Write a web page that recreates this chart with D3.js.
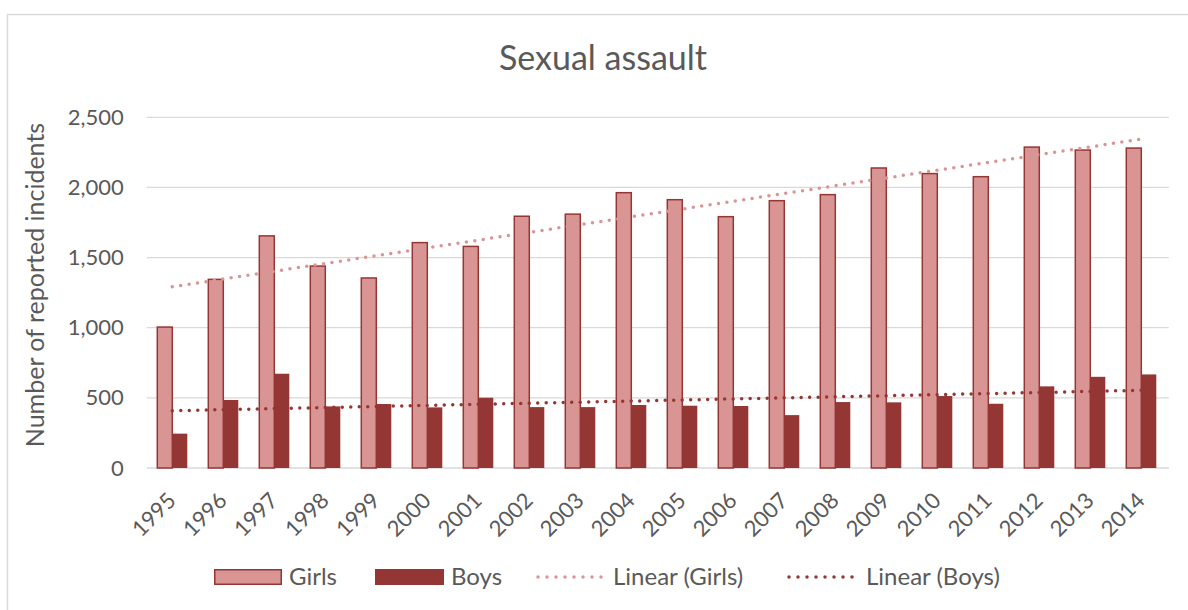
<!DOCTYPE html>
<html>
<head>
<meta charset="utf-8">
<script src="https://cdn.jsdelivr.net/npm/d3@7"></script>
<style>
  body { margin: 0; background: #fff; }
  text { font-family: Lato, "Open Sans", sans-serif; fill: #595959; }
</style>
</head>
<body>
<div id="chart"></div>
<script>
// data
var years = ["1995", "1996", "1997", "1998", "1999", "2000", "2001", "2002", "2003", "2004",
  "2005", "2006", "2007", "2008", "2009", "2010", "2011", "2012", "2013", "2014"];
var girls = [1010, 1350, 1660, 1445, 1360, 1612, 1585, 1800, 1815, 1968,
  1918, 1797, 1911, 1954, 2144, 2104, 2082, 2293, 2272, 2286];
var boys = [245, 485, 672, 439, 456, 432, 501, 434, 434, 449,
  444, 442, 377, 470, 468, 513, 458, 582, 650, 667];
var yTicks = [0, 500, 1000, 1500, 2000, 2500];

var width = 1188, height = 610;
var margin = { top: 117.3, right: 21.2, bottom: 142, left: 146.8 };
var innerW = width - margin.left - margin.right,
  innerH = height - margin.top - margin.bottom;

var pink = "#d99594", darkRed = "#943634", grid = "#d9d9d9";

var svg = d3.select("#chart")
  .append("svg")
  .attr("width", width)
  .attr("height", height);

// chart border
svg.append("rect")
  .attr("x", 7.5).attr("y", 14.5)
  .attr("width", 1200).attr("height", 620)
  .attr("fill", "none")
  .attr("stroke", grid)
  .attr("stroke-width", 1.5);

svg.append("text")
  .attr("x", 603).attr("y", 70)
  .attr("text-anchor", "middle")
  .style("font-size", "34px")
  .text("Sexual assault");

var g = svg.append("g")
  .attr("transform", "translate(" + margin.left + "," + margin.top + ")");

var x = d3.scaleBand()
  .domain(years)
  .range([0, innerW])
  .padding(0);

var y = d3.scaleLinear()
  .domain([0, 2500])
  .range([innerH, 0]);

// gridlines
g.selectAll(".grid")
  .data(yTicks)
  .enter()
  .append("line")
  .attr("x1", 0)
  .attr("x2", innerW + 2)
  .attr("y1", function (d) { return y(d); })
  .attr("y2", function (d) { return y(d); })
  .attr("stroke", grid)
  .attr("stroke-width", 1.3);

// Y axis labels
var yAxis = g.append("g")
  .call(d3.axisLeft(y).tickValues(yTicks).tickFormat(d3.format(",")).tickSize(0).tickPadding(23));
yAxis.select("path").remove();
yAxis.selectAll("text")
  .style("font-size", "22px")
  .style("fill", "#595959");

// X axis labels
var xAxis = g.append("g")
  .attr("transform", "translate(0," + innerH + ")")
  .call(d3.axisBottom(x).tickSize(0));
xAxis.select("path").remove();
xAxis.selectAll("text")
  .style("font-size", "22px")
  .style("fill", "#595959")
  .attr("text-anchor", "end")
  .attr("dy", 0)
  .attr("y", 0)
  .attr("transform", "translate(5,34) rotate(-45)");

svg.append("text")
  .attr("transform", "translate(44,285) rotate(-90)")
  .attr("text-anchor", "middle")
  .style("font-size", "25px")
  .text("Number of reported incidents");

var barW = 15;

// Girls
g.selectAll(".girls")
  .data(girls)
  .enter()
  .append("rect")
  .attr("x", function (d, i) { return x(years[i]) + x.bandwidth() / 2 - barW; })
  .attr("y", function (d) { return y(d) + 0.75; })
  .attr("width", barW)
  .attr("height", function (d) { return innerH - y(d) - 0.75; })
  .attr("fill", pink)
  .attr("stroke", darkRed)
  .attr("stroke-width", 1.5);

// Boys
g.selectAll(".boys")
  .data(boys)
  .enter()
  .append("rect")
  .attr("x", function (d, i) { return x(years[i]) + x.bandwidth() / 2; })
  .attr("y", function (d) { return y(d); })
  .attr("width", barW)
  .attr("height", function (d) { return innerH - y(d); })
  .attr("fill", darkRed);

// least squares trend, like the spreadsheet's linear trendline
function trend(vals) {
  var n = vals.length;
  var mx = (n - 1) / 2, my = d3.mean(vals);
  var sxy = 0, sxx = 0;
  vals.forEach(function (v, i) { sxy += (i - mx) * (v - my); sxx += (i - mx) * (i - mx); });
  var b = sxy / sxx, a = my - b * mx;
  return [[0, a], [n - 1, a + b * (n - 1)]];
}

var line = d3.line()
  .x(function (d) { return x(years[d[0]]) + x.bandwidth() / 2; })
  .y(function (d) { return y(d[1]); });

g.append("path")
  .attr("d", line(trend(girls)))
  .attr("fill", "none")
  .attr("stroke", pink)
  .attr("stroke-width", 3.5)
  .attr("stroke-linecap", "round")
  .attr("stroke-dasharray", "0,8.5");

g.append("path")
  .attr("d", line(trend(boys)))
  .attr("fill", "none")
  .attr("stroke", darkRed)
  .attr("stroke-width", 3.5)
  .attr("stroke-linecap", "round")
  .attr("stroke-dasharray", "0,8.5");

// legend
var legend = svg.append("g");
legend.append("rect")
  .attr("x", 214.75).attr("y", 569.75)
  .attr("width", 66.5).attr("height", 14.5)
  .attr("fill", pink).attr("stroke", darkRed).attr("stroke-width", 1.5);
legend.append("text").attr("x", 289).attr("y", 585).style("font-size", "24px").text("Girls");

legend.append("rect")
  .attr("x", 375).attr("y", 569)
  .attr("width", 69).attr("height", 16)
  .attr("fill", darkRed);
legend.append("text").attr("x", 451).attr("y", 585).style("font-size", "24px").text("Boys");

legend.append("line")
  .attr("x1", 538).attr("x2", 602).attr("y1", 577).attr("y2", 577)
  .attr("stroke", pink).attr("stroke-width", 3.5)
  .attr("stroke-linecap", "round").attr("stroke-dasharray", "0,9");
legend.append("text").attr("x", 613).attr("y", 585).style("font-size", "24px").text("Linear (Girls)");

legend.append("line")
  .attr("x1", 789).attr("x2", 853).attr("y1", 577).attr("y2", 577)
  .attr("stroke", darkRed).attr("stroke-width", 3.5)
  .attr("stroke-linecap", "round").attr("stroke-dasharray", "0,9");
legend.append("text").attr("x", 866).attr("y", 585).style("font-size", "24px").text("Linear (Boys)");
</script>
</body>
</html>
